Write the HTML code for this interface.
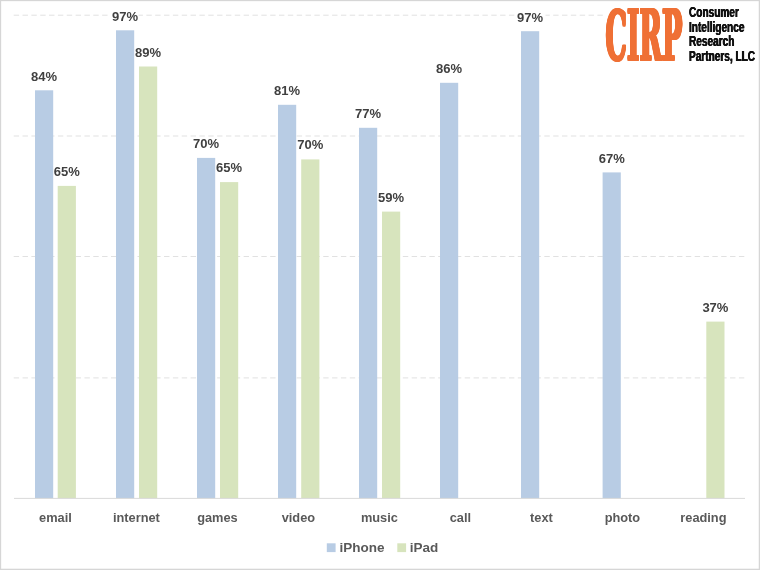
<!DOCTYPE html>
<html><head><meta charset="utf-8"><title>chart</title>
<style>
html,body{margin:0;padding:0;background:#fff;}
svg{display:block;}
text{font-family:"Liberation Sans",sans-serif;font-weight:bold;}
.dl{font-size:13px;fill:#404040;text-anchor:middle;}
.cl{font-size:12.8px;fill:#595959;text-anchor:middle;}
.lg{font-size:13.5px;fill:#595959;}
body{position:relative;width:760px;height:570px;overflow:hidden;}
.cirp{position:absolute;left:605.4px;top:0.5px;font-family:"DejaVu Serif","Liberation Serif",serif;font-weight:bold;font-size:27px;line-height:27px;letter-spacing:0px;color:#ef7035;white-space:nowrap;transform-origin:0 0;transform:scaleY(2.57);text-shadow:-0.7px -0.4px #ef7035,0px -0.4px #ef7035,0.7px -0.4px #ef7035,-0.7px 0px #ef7035,0.7px 0px #ef7035,-0.7px 0.4px #ef7035,0px 0.4px #ef7035,0.7px 0.4px #ef7035;}
.cname{position:absolute;left:688.6px;top:4.9px;font-family:"Liberation Sans",sans-serif;font-weight:bold;font-size:14px;line-height:14.7px;color:#111;white-space:nowrap;transform-origin:0 0;transform:scaleX(0.72);text-shadow:-0.4px 0 #111,0.4px 0 #111;}
</style></head><body>
<svg width="760" height="570" viewBox="0 0 760 570">
<rect x="0" y="0" width="760" height="570" fill="#ffffff"/>
<line x1="13.7" y1="15.2" x2="744.6" y2="15.2" stroke="#e1e1e1" stroke-width="1" stroke-dasharray="5.4 3.444"/>
<line x1="13.7" y1="136.0" x2="744.6" y2="136.0" stroke="#e1e1e1" stroke-width="1" stroke-dasharray="5.4 3.444"/>
<line x1="13.7" y1="256.5" x2="744.6" y2="256.5" stroke="#e1e1e1" stroke-width="1" stroke-dasharray="5.4 3.444"/>
<line x1="13.7" y1="377.9" x2="744.6" y2="377.9" stroke="#e1e1e1" stroke-width="1" stroke-dasharray="5.4 3.444"/>
<rect x="109" y="9" width="29.5" height="14" fill="#ffffff"/>
<rect x="516" y="9" width="29.5" height="14" fill="#ffffff"/>
<rect x="604" y="1" width="154" height="66" fill="#ffffff"/>
<rect x="35" y="90.3" width="18.2" height="408.1" fill="#b8cce4"/>
<text class="dl" x="44.1" y="81.0">84%</text>
<rect x="116" y="30.3" width="18.2" height="468.1" fill="#b8cce4"/>
<text class="dl" x="125.1" y="20.7">97%</text>
<rect x="197" y="157.9" width="18.2" height="340.5" fill="#b8cce4"/>
<text class="dl" x="206.1" y="147.8">70%</text>
<rect x="278" y="104.8" width="18.2" height="393.6" fill="#b8cce4"/>
<text class="dl" x="287.1" y="94.7">81%</text>
<rect x="359" y="127.8" width="18.2" height="370.6" fill="#b8cce4"/>
<text class="dl" x="368.1" y="117.9">77%</text>
<rect x="440" y="82.8" width="18.2" height="415.6" fill="#b8cce4"/>
<text class="dl" x="449.1" y="73.0">86%</text>
<rect x="521" y="31.2" width="18.2" height="467.2" fill="#b8cce4"/>
<text class="dl" x="530.1" y="21.5">97%</text>
<rect x="602.6" y="172.4" width="18.2" height="326.0" fill="#b8cce4"/>
<text class="dl" x="611.7" y="162.7">67%</text>
<rect x="57.7" y="185.9" width="18.2" height="312.5" fill="#d7e4bd"/>
<text class="dl" x="66.8" y="176.2">65%</text>
<rect x="139" y="66.5" width="18.2" height="431.9" fill="#d7e4bd"/>
<text class="dl" x="148.1" y="56.7">89%</text>
<rect x="220" y="182.1" width="18.2" height="316.3" fill="#d7e4bd"/>
<text class="dl" x="229.1" y="171.8">65%</text>
<rect x="301.2" y="159.4" width="18.2" height="339.0" fill="#d7e4bd"/>
<text class="dl" x="310.3" y="148.9">70%</text>
<rect x="382" y="211.6" width="18.2" height="286.8" fill="#d7e4bd"/>
<text class="dl" x="391.1" y="201.9">59%</text>
<rect x="706.3" y="321.6" width="18.2" height="176.8" fill="#d7e4bd"/>
<text class="dl" x="715.4" y="311.5">37%</text>
<line x1="14" y1="498.4" x2="745" y2="498.4" stroke="#d9d9d9" stroke-width="1"/>
<text class="cl" x="55.4" y="521.6">email</text>
<text class="cl" x="136.4" y="521.6">internet</text>
<text class="cl" x="217.4" y="521.6">games</text>
<text class="cl" x="298.4" y="521.6">video</text>
<text class="cl" x="379.4" y="521.6">music</text>
<text class="cl" x="460.4" y="521.6">call</text>
<text class="cl" x="541.4" y="521.6">text</text>
<text class="cl" x="622.4" y="521.6">photo</text>
<text class="cl" x="703.4" y="521.6">reading</text>
<rect x="326.8" y="543.3" width="8.8" height="8.8" fill="#b8cce4"/>
<text class="lg" x="339.5" y="552">iPhone</text>
<rect x="397.3" y="543.3" width="8.8" height="8.8" fill="#d7e4bd"/>
<text class="lg" x="409.7" y="552">iPad</text>
<rect x="0" y="0" width="760" height="1.15" fill="#d6d6d6"/>
<rect x="0" y="0" width="1.15" height="570" fill="#d6d6d6"/>
<rect x="758.75" y="0" width="1.25" height="570" fill="#d6d6d6"/>
<rect x="0" y="568.7" width="760" height="1.3" fill="#d6d6d6"/>
</svg>
<div class="cirp">CIRP</div>
<div class="cname">Consumer<br>Intelligence<br>Research<br>Partners, LLC</div>
</body></html>
